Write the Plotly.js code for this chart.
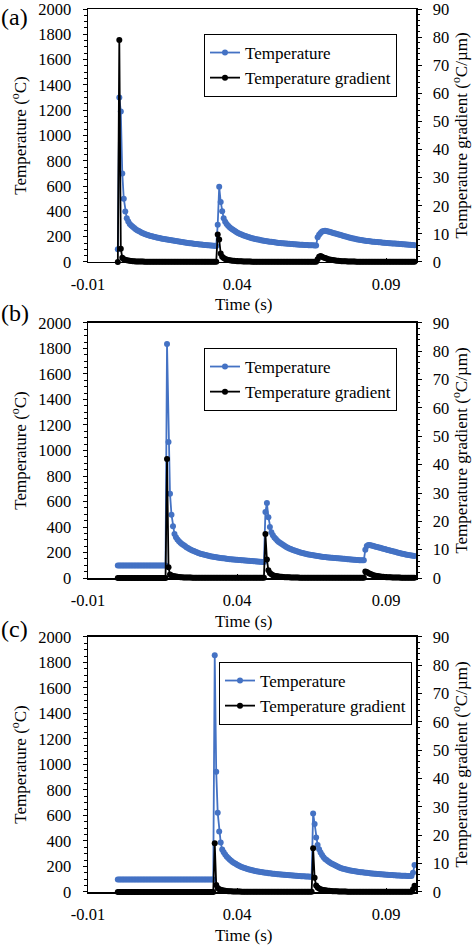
<!DOCTYPE html>
<html>
<head>
<meta charset="utf-8">
<script src="https://cdn.plot.ly/plotly-3.0.1.min.js"></script>
<style>html,body{margin:0;padding:0;background:#fff;}#chart{width:474px;height:946px;}</style>
</head>
<body>
<div id="chart"></div>
<script>
// Time (s)
const time = [
0,0.0005,0.001,0.0015,0.002,0.0025,0.003,0.0035,0.004,0.0045,
0.005,0.0055,0.006,0.0065,0.007,0.0075,0.008,0.0085,0.009,0.0095,
0.01,0.0105,0.011,0.0115,0.012,0.0125,0.013,0.0135,0.014,0.0145,
0.015,0.0155,0.016,0.0165,0.017,0.0175,0.018,0.0185,0.019,0.0195,
0.02,0.0205,0.021,0.0215,0.022,0.0225,0.023,0.0235,0.024,0.0245,
0.025,0.0255,0.026,0.0265,0.027,0.0275,0.028,0.0285,0.029,0.0295,
0.03,0.0305,0.031,0.0315,0.032,0.0325,0.033,0.0335,0.034,0.0345,
0.035,0.0355,0.036,0.0365,0.037,0.0375,0.038,0.0385,0.039,0.0395,
0.04,0.0405,0.041,0.0415,0.042,0.0425,0.043,0.0435,0.044,0.0445,
0.045,0.0455,0.046,0.0465,0.047,0.0475,0.048,0.0485,0.049,0.0495,
0.05,0.0505,0.051,0.0515,0.052,0.0525,0.053,0.0535,0.054,0.0545,
0.055,0.0555,0.056,0.0565,0.057,0.0575,0.058,0.0585,0.059,0.0595,
0.06,0.0605,0.061,0.0615,0.062,0.0625,0.063,0.0635,0.064,0.0645,
0.065,0.0655,0.066,0.0665,0.067,0.0675,0.068,0.0685,0.069,0.0695,
0.07,0.0705,0.071,0.0715,0.072,0.0725,0.073,0.0735,0.074,0.0745,
0.075,0.0755,0.076,0.0765,0.077,0.0775,0.078,0.0785,0.079,0.0795,
0.08,0.0805,0.081,0.0815,0.082,0.0825,0.083,0.0835,0.084,0.0845,
0.085,0.0855,0.086,0.0865,0.087,0.0875,0.088,0.0885,0.089,0.0895,
0.09,0.0905,0.091,0.0915,0.092,0.0925,0.093,0.0935,0.094,0.0945,
0.095,0.0955,0.096,0.0965,0.097,0.0975,0.098,0.0985,0.099,0.0995
];

// Panel (a)
const tempA = [
100,1300,1190,700,500,400,345,320,300,288,
278,268,259,251,244,238,232,227,222,218,
214,210,206,203,200,197,194,191,189,186,
184,182,179,177,175,173,171,169,167,165,
163,161,159,158,156,154,152,151,149,148,
146,145,143,142,140,139,138,137,135,134,
133,132,131,130,129,128,127,295,595,475,
402,345,318,300,286,275,265,256,248,241,
234,228,222,217,212,207,203,199,195,192,
188,185,182,180,177,175,172,170,168,166,
164,162,160,159,157,156,154,153,151,150,
149,148,147,146,145,144,143,142,141,140,
139,138,137,137,136,135,135,134,133,133,
132,132,131,131,195,215,230,240,245,246,
244,241,238,235,232,228,225,222,218,215,
211,208,204,201,197,194,191,188,185,183,
180,178,176,174,172,170,168,166,165,163,
162,160,159,158,157,156,155,154,153,152,
151,150,149,148,147,147,146,145,144,143,
142,141,140,139,138,137,136,135,134,133
];
const gradA = [
0,79,4.7,1.5,1.0,0.8,0.6,0.5,0.4,0.35,
0.3,0.25,0.2,0.2,0.2,0.15,0.15,0.15,0.1,0.1,
0.1,0.1,0.1,0.1,0.1,0.1,0.1,0.1,0.1,0.1,
0.1,0.1,0.1,0.1,0.1,0.1,0.1,0.1,0.1,0.1,
0.1,0.1,0.1,0.1,0.1,0.1,0.1,0.1,0.1,0.1,
0.1,0.1,0.1,0.1,0.1,0.1,0.1,0.1,0.1,0.1,
0.1,0.1,0.1,0.1,0.1,0.1,0.1,9.8,8.0,3.0,
1.9,1.4,1.1,0.9,0.7,0.6,0.5,0.45,0.4,0.35,
0.3,0.3,0.25,0.25,0.2,0.2,0.2,0.15,0.15,0.15,
0.1,0.1,0.1,0.1,0.1,0.1,0.1,0.1,0.1,0.1,
0.1,0.1,0.1,0.1,0.1,0.1,0.1,0.1,0.1,0.1,
0.1,0.1,0.1,0.1,0.1,0.1,0.1,0.1,0.1,0.1,
0.1,0.1,0.1,0.1,0.1,0.1,0.1,0.1,0.1,0.1,
0.1,0.1,0.1,0.1,1.0,1.9,2.1,1.9,1.6,1.4,
1.2,1.0,0.9,0.8,0.7,0.6,0.5,0.45,0.4,0.35,
0.3,0.3,0.25,0.25,0.2,0.2,0.2,0.15,0.15,0.15,
0.1,0.1,0.1,0.1,0.1,0.1,0.1,0.1,0.1,0.1,
0.1,0.1,0.1,0.1,0.1,0.1,0.1,0.1,0.1,0.1,
0.1,0.1,0.1,0.1,0.1,0.1,0.1,0.1,0.1,0.1,
0.1,0.1,0.1,0.1,0.1,0.1,0.1,0.1,0.1,0.1
];

// Panel (b)
const tempB = [
98,98,98,98,98,98,98,98,98,98,
98,98,98,98,98,98,98,98,98,98,
98,98,98,98,98,98,98,98,98,98,
98,98,98,1835,1067,661,497,405,345,320,
302,288,277,267,258,250,242,235,228,222,
216,211,206,201,197,193,189,186,183,180,
177,174,171,169,167,165,163,161,159,157,
155,154,152,151,149,148,147,146,145,144,
143,142,141,140,139,138,137,136,135,134,
133,132,131,130,129,128,127,126,125,518,
588,476,400,358,335,318,305,293,283,274,
266,258,251,244,238,232,227,222,218,214,
210,206,202,199,196,193,190,187,185,182,
180,178,176,174,172,170,168,167,165,164,
162,161,160,159,158,157,156,155,154,153,
152,151,150,149,148,147,146,145,144,143,
142,141,140,140,139,139,222,250,258,258,
255,252,249,246,243,240,237,234,230,227,
224,220,217,214,211,208,205,202,199,196,
193,190,188,185,183,180,178,176,174,172
];
const gradB = [
0,0,0,0,0,0,0,0,0,0,
0,0,0,0,0,0,0,0,0,0,
0,0,0,0,0,0,0,0,0,0,
0,0,0,42,3.8,1.2,0.9,0.7,0.6,0.5,
0.4,0.35,0.3,0.25,0.2,0.2,0.2,0.15,0.15,0.15,
0.1,0.1,0.1,0.1,0.1,0.1,0.1,0.1,0.1,0.1,
0.1,0.1,0.1,0.1,0.1,0.1,0.1,0.1,0.1,0.1,
0.1,0.1,0.1,0.1,0.1,0.1,0.1,0.1,0.1,0.1,
0.1,0.1,0.1,0.1,0.1,0.1,0.1,0.1,0.1,0.1,
0.1,0.1,0.1,0.1,0.1,0.1,0.1,0.1,0.1,15.5,
6.5,2.7,1.8,1.3,1.0,0.8,0.7,0.6,0.5,0.45,
0.4,0.35,0.3,0.3,0.25,0.25,0.2,0.2,0.2,0.15,
0.15,0.15,0.1,0.1,0.1,0.1,0.1,0.1,0.1,0.1,
0.1,0.1,0.1,0.1,0.1,0.1,0.1,0.1,0.1,0.1,
0.1,0.1,0.1,0.1,0.1,0.1,0.1,0.1,0.1,0.1,
0.1,0.1,0.1,0.1,0.1,0.1,0.1,0.1,0.1,0.1,
0.1,0.1,0.1,0.1,0.1,0.1,2.3,2.1,1.8,1.5,
1.3,1.1,0.9,0.8,0.7,0.6,0.5,0.45,0.4,0.35,
0.3,0.3,0.25,0.25,0.2,0.2,0.2,0.15,0.15,0.15,
0.1,0.1,0.1,0.1,0.1,0.1,0.1,0.1,0.1,0.1
];

// Panel (c)
const tempC = [
98,98,98,98,98,98,98,98,98,98,
98,98,98,98,98,98,98,98,98,98,
98,98,98,98,98,98,98,98,98,98,
98,98,98,98,98,98,98,98,98,98,
98,98,98,98,98,98,98,98,98,98,
98,98,98,98,98,98,98,98,98,98,
98,98,98,98,98,1856,943,621,475,389,
334,312,294,279,266,255,245,236,228,221,
214,208,202,197,192,188,184,180,177,174,
171,168,165,163,161,159,157,155,153,151,
150,148,147,145,144,143,141,140,139,138,
137,136,135,134,133,132,131,130,129,128,
127,126,125,124,123,123,122,121,121,120,
120,616,533,428,368,335,310,290,273,259,
250,241,233,226,219,213,207,201,196,191,
187,183,180,177,174,171,169,166,164,162,
160,158,157,155,154,152,151,150,149,147,
146,145,144,143,142,141,140,139,138,137,
136,135,134,133,133,132,131,130,130,129,
128,128,127,127,126,126,125,125,150,211
];
const gradC = [
0,0,0,0,0,0,0,0,0,0,
0,0,0,0,0,0,0,0,0,0,
0,0,0,0,0,0,0,0,0,0,
0,0,0,0,0,0,0,0,0,0,
0,0,0,0,0,0,0,0,0,0,
0,0,0,0,0,0,0,0,0,0,
0,0,0,0,0,17.2,2.5,1.4,1.0,0.8,
0.6,0.5,0.4,0.35,0.3,0.25,0.25,0.2,0.2,0.2,
0.15,0.15,0.15,0.1,0.1,0.1,0.1,0.1,0.1,0.1,
0.1,0.1,0.1,0.1,0.1,0.1,0.1,0.1,0.1,0.1,
0.1,0.1,0.1,0.1,0.1,0.1,0.1,0.1,0.1,0.1,
0.1,0.1,0.1,0.1,0.1,0.1,0.1,0.1,0.1,0.1,
0.1,0.1,0.1,0.1,0.1,0.1,0.1,0.1,0.1,0.1,
0.1,15.4,5.0,2.3,1.6,1.2,1.0,0.8,0.7,0.6,
0.5,0.45,0.4,0.35,0.3,0.3,0.25,0.25,0.2,0.2,
0.2,0.15,0.15,0.15,0.1,0.1,0.1,0.1,0.1,0.1,
0.1,0.1,0.1,0.1,0.1,0.1,0.1,0.1,0.1,0.1,
0.1,0.1,0.1,0.1,0.1,0.1,0.1,0.1,0.1,0.1,
0.1,0.1,0.1,0.1,0.1,0.1,0.1,0.1,0.1,0.1,
0.1,0.1,0.1,0.1,0.1,0.1,0.1,0.1,1.0,2.2
];

// Tick labels and text
const xTickVals = [-0.01, 0.04, 0.09];
const xTickText = ["-0.01", "0.04", "0.09"];
const panelLabels = ["(a)", "(b)", "(c)"];
const seriesNames = ["Temperature", "Temperature gradient"];
const xTitle = "Time (s)";
const yTitleLeft = "Temperature (<sup>o</sup>C)";
const yTitleRight = "Temperature gradient (<sup>o</sup>C/µm)";

const FAM = "Liberation Serif";
const BLUE = "#4472C4";
function f(size) { return {family: FAM, size: size, color: "black"}; }

const panels = [
  {temp: tempA, grad: gradA, xa: "x",  ya: "y",  yb: "y2", leg: "legend"},
  {temp: tempB, grad: gradB, xa: "x2", ya: "y3", yb: "y4", leg: "legend2"},
  {temp: tempC, grad: gradC, xa: "x3", ya: "y5", yb: "y6", leg: "legend3"}
];

const traces = [];
panels.forEach(p => {
  traces.push({
    x: time, y: p.temp, xaxis: p.xa, yaxis: p.ya, legend: p.leg,
    name: seriesNames[0], type: "scatter", mode: "lines+markers", cliponaxis: false,
    line: {color: BLUE, width: 1.8}, marker: {color: BLUE, size: 6}
  });
  traces.push({
    x: time, y: p.grad, xaxis: p.xa, yaxis: p.yb, legend: p.leg,
    name: seriesNames[1], type: "scatter", mode: "lines+markers", cliponaxis: false,
    line: {color: "black", width: 1.8}, marker: {color: "black", size: 6}
  });
});

// plot area: 88..416 px horizontally, 9..892 px vertically (883 px tall)
const domains = [[0.7135, 1.0], [0.3556, 0.6444], [0.0, 0.2888]];
const legendPos = [{x: 0.942, y: 0.9717}, {x: 0.942, y: 0.6161}, {x: 0.9878, y: 0.2605}];
const labelY = [0.9909, 0.6557, 0.2978];
const xTitleY = [0.6648, 0.3058, -0.0487];

function xAxis(anchor) {
  return {
    anchor: anchor, domain: [0, 1], range: [-0.01, 0.1],
    tickmode: "array", tickvals: xTickVals, ticktext: xTickText,
    ticks: "inside", ticklen: 4, tickcolor: "black", tickwidth: 1,
    showline: true, linecolor: "black", linewidth: 1.5, mirror: true,
    showgrid: false, zeroline: false, ticklabelstandoff: 7,
    ticklabeloverflow: "allow", tickfont: f(16.5)
  };
}
function yLeft(anchor, dom) {
  return {
    anchor: anchor, domain: dom, range: [0, 2000], tick0: 0, dtick: 200,
    ticks: "outside", ticklen: 4, tickcolor: "black",
    minor: {dtick: 50, ticks: "outside", ticklen: 2.5, tickcolor: "black"},
    showline: true, linecolor: "black", linewidth: 1.5,
    showgrid: false, zeroline: false, ticklabelstandoff: 8,
    ticklabeloverflow: "allow", tickfont: f(16.5),
    title: {text: yTitleLeft, font: f(17), standoff: 7}
  };
}
function yRight(anchor, over) {
  return {
    anchor: anchor, overlaying: over, side: "right", range: [0, 90], tick0: 0, dtick: 10,
    ticks: "outside", ticklen: 4, tickcolor: "black",
    minor: {dtick: 2, ticks: "outside", ticklen: 2.5, tickcolor: "black"},
    showline: true, linecolor: "black", linewidth: 1.5,
    showgrid: false, zeroline: false, ticklabelstandoff: 8,
    ticklabeloverflow: "allow", tickfont: f(16.5),
    title: {text: yTitleRight, font: f(17), standoff: 6}
  };
}
function legendCfg(pos) {
  return {
    x: pos.x, y: pos.y, xanchor: "right", yanchor: "top",
    bgcolor: "white", bordercolor: "black", borderwidth: 1,
    font: f(17), itemwidth: 30, tracegroupgap: 0
  };
}

const annotations = [];
panelLabels.forEach((t, k) => {
  annotations.push({
    text: t, xref: "paper", yref: "paper", x: -0.2226, y: labelY[k],
    xanchor: "center", yanchor: "middle", showarrow: false, font: f(24)
  });
  annotations.push({
    text: xTitle, xref: "paper", yref: "paper", x: 0.4726, y: xTitleY[k],
    xanchor: "center", yanchor: "middle", showarrow: false, font: f(17)
  });
});

const layout = {
  width: 474, height: 946,
  margin: {l: 88, r: 58, t: 9, b: 54},
  paper_bgcolor: "white", plot_bgcolor: "white",
  font: f(16.5),
  showlegend: true,
  xaxis: xAxis("y"), yaxis: yLeft("x", domains[0]), yaxis2: yRight("x", "y"),
  xaxis2: xAxis("y3"), yaxis3: yLeft("x2", domains[1]), yaxis4: yRight("x2", "y3"),
  xaxis3: xAxis("y5"), yaxis5: yLeft("x3", domains[2]), yaxis6: yRight("x3", "y5"),
  legend: legendCfg(legendPos[0]),
  legend2: legendCfg(legendPos[1]),
  legend3: legendCfg(legendPos[2]),
  annotations: annotations
};

Plotly.newPlot("chart", traces, layout, {staticPlot: true, displayModeBar: false});
</script>
</body>
</html>
